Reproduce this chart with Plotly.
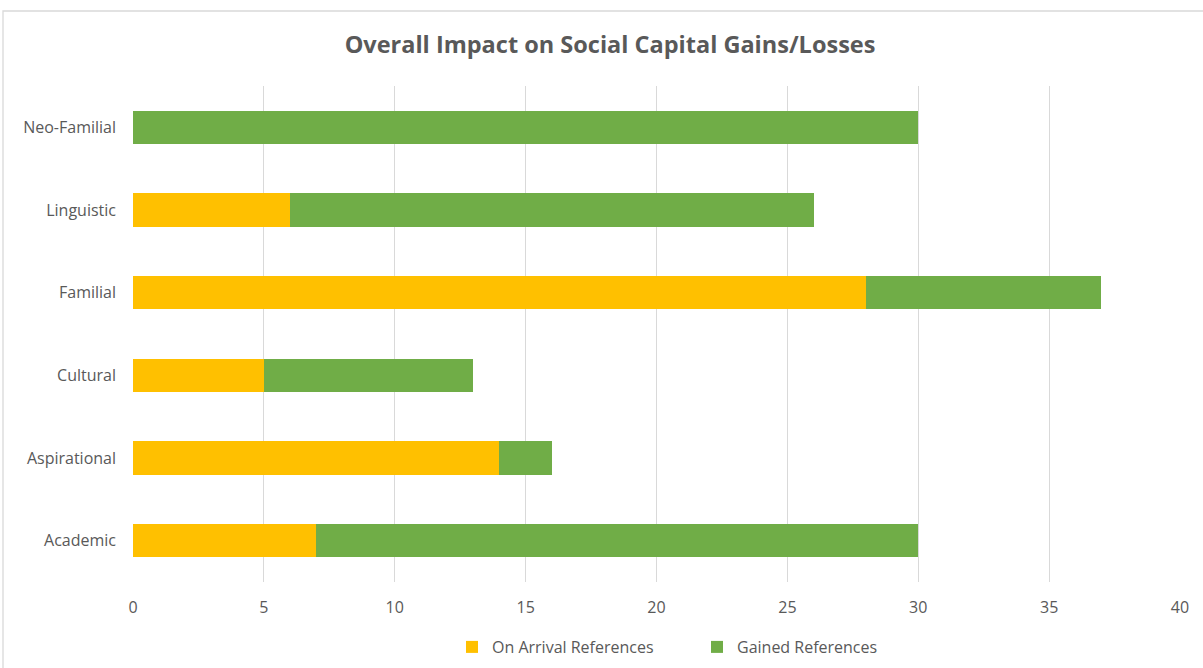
import plotly.graph_objects as go

categories = ["Academic", "Aspirational", "Cultural", "Familial", "Linguistic", "Neo-Familial"]
on_arrival = [7, 14, 5, 28, 6, 0]
gained = [23, 2, 8, 9, 20, 30]
x_ticks = [0, 5, 10, 15, 20, 25, 30, 35, 40]

W, H = 1203, 668
# plot area in page pixels
PX0, PX1, PY0, PY1 = 133, 1180, 86, 582
L, R, T, B = PX0, W - PX1, PY0, H - PY1
pw, ph = PX1 - PX0, PY1 - PY0

def px_x(p):
    return (p - PX0) / pw

def px_y(p):
    return (PY1 - p) / ph

font = "Open Sans, Calibri, sans-serif"
gray = "#595959"

fig = go.Figure()
fig.add_trace(go.Bar(y=categories, x=on_arrival, name="On Arrival References",
                     orientation="h", marker=dict(color="#FFC000", line=dict(width=0))))
fig.add_trace(go.Bar(y=categories, x=gained, name="Gained References",
                     orientation="h", marker=dict(color="#70AD47", line=dict(width=0))))

fig.update_layout(
    width=W, height=H,
    margin=dict(l=L, r=R, t=T, b=B, autoexpand=False),
    barmode="stack", bargap=0.6,
    plot_bgcolor="white", paper_bgcolor="white",
    font=dict(family=font, color=gray, size=16),
    title=dict(text="<b>Overall Impact on Social Capital Gains/Losses</b>",
               x=610 / W, xanchor="center", y=1 - 45 / H, yanchor="middle",
               font=dict(size=23.5, color=gray, family=font)),
    legend=dict(orientation="h", x=452 / W, xanchor="left", xref="container",
                y=1 - 647 / H, yanchor="middle", yref="container",
                font=dict(size=16, color=gray), itemwidth=30, entrywidth=200,
                traceorder="normal", bgcolor="rgba(0,0,0,0)"),
    xaxis=dict(range=[0, 40], tickvals=x_ticks, showgrid=True, gridcolor="#d9d9d9", gridwidth=1,
               zeroline=False, showline=False, ticks="", ticklabelstandoff=14,
               tickfont=dict(size=16, color=gray), automargin=False),
    yaxis=dict(categoryorder="array", categoryarray=categories, range=[-0.5, 5.5],
               showgrid=False, zeroline=False, showline=False, ticks="", ticklabelstandoff=16,
               tickfont=dict(size=16, color=gray), automargin=False),
    shapes=[dict(type="rect", xref="paper", yref="paper",
                 x0=px_x(3), x1=px_x(1215), y0=px_y(690), y1=px_y(11),
                 line=dict(color="#d9d9d9", width=1.3), fillcolor="rgba(0,0,0,0)", layer="below")],
)

fig.write_html("out.html", config={"displayModeBar": False},
               post_script="document.body.style.margin='0px';")
